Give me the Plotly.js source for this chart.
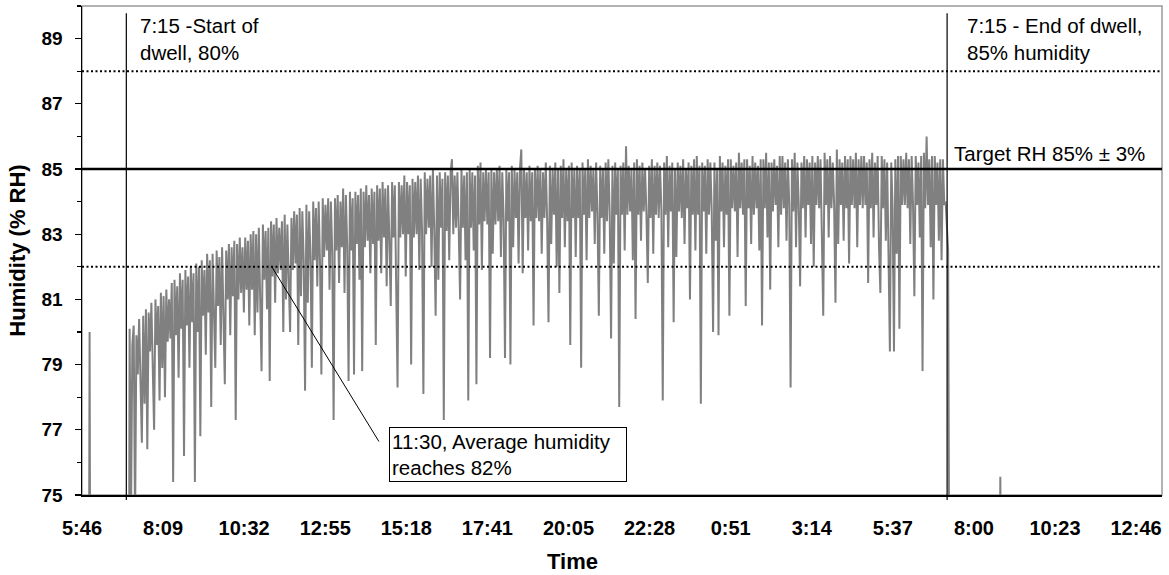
<!DOCTYPE html>
<html>
<head>
<meta charset="utf-8">
<script src="https://cdn.plot.ly/plotly-3.0.1.min.js"></script>
<style>html,body{margin:0;padding:0;background:#fff;}</style>
</head>
<body>
<div id="chart" style="width:1169px;height:575px;"></div>
<script>
// ---- Data (time in hours since midnight of day 1; values in % RH) ----
const tickLabels = ['5:46','8:09','10:32','12:55','15:18','17:41','20:05','22:28','0:51','3:14','5:37','8:00','10:23','12:46'];
const firstTickHour = 5 + 46 / 60;
const tickStepHours = 143.08 / 60;

// readings before the dwell (mostly below the 75 % axis floor)
const preTimes = [5.776, 5.975, 5.990, 6.005, 7.152];
const preRH    = [73.0, 73.0, 80.0, 73.0, 73.0];

// dwell readings, one every 0.04 h starting at dwellFirstHour
const dwellFirstHour = 7.167;
const dwellStepHours = 0.04;
const dwellRH = [
 80.1,74.2,79.6,80.2,74.0,79.9,78.7,80.4,78.2,76.6,80.5,77.8,80.7,76.4,80.6,79.4,80.9,78.5,77.0,81.0,79.6,80.8,77.9,81.2,78.9,81.1,78.0,81.3,79.7,81.0,
 79.8,81.5,75.4,81.6,79.9,81.4,78.6,81.8,80.1,81.6,76.2,81.9,80.2,81.7,78.9,82.0,80.3,81.8,75.4,82.1,80.0,82.0,76.8,82.2,80.5,81.9,79.3,82.4,80.6,82.2,
 77.7,82.4,80.7,78.9,82.5,80.8,82.3,79.6,82.6,80.9,78.4,82.5,81.0,82.7,79.9,82.6,81.1,82.8,77.3,82.7,81.0,82.9,81.2,82.6,80.6,82.9,81.3,82.8,80.2,83.0,
 81.3,83.1,79.9,83.0,80.6,83.2,81.4,78.8,83.3,81.6,83.1,80.7,83.2,78.5,83.4,81.7,83.3,80.9,83.5,81.8,83.2,81.9,83.4,80.0,83.6,81.0,83.3,82.0,80.0,83.5,
 81.9,83.7,82.1,83.6,79.6,83.8,81.1,83.7,82.2,78.2,83.9,80.9,83.7,82.3,78.9,84.0,82.2,83.8,81.4,84.0,82.1,78.7,84.1,82.3,83.9,82.5,84.1,81.3,84.0,82.4,
 77.3,84.1,82.5,84.2,81.5,84.0,82.6,84.4,81.2,84.2,82.6,78.5,84.3,82.5,84.1,78.7,84.3,82.7,84.2,81.6,84.4,78.8,84.3,82.6,84.5,82.8,84.2,81.8,84.4,82.7,
 84.3,79.6,84.5,82.8,84.4,81.8,84.6,82.9,84.4,81.4,84.5,82.8,80.8,84.6,82.9,84.5,81.9,78.3,84.6,82.9,84.5,83.0,84.8,81.7,84.6,83.0,84.5,79.0,84.7,82.9,
 84.6,83.0,84.8,81.9,84.7,83.1,78.1,84.9,83.0,84.7,83.2,84.8,82.0,85.0,83.1,80.5,84.8,81.6,84.9,83.2,84.7,77.3,84.9,83.1,84.8,82.2,84.9,85.3,83.0,84.8,
 83.2,84.9,83.1,81.0,85.0,83.2,84.8,82.2,84.9,77.9,85.0,83.2,84.9,82.5,84.8,78.4,85.1,83.3,85.2,81.9,84.9,83.4,85.0,83.3,84.9,79.2,85.0,82.4,84.9,83.3,
 85.0,83.4,85.1,82.3,84.9,83.5,79.2,85.0,83.4,84.9,79.0,85.1,82.6,85.0,83.5,84.9,82.1,85.0,85.6,81.8,85.0,83.5,84.9,82.5,85.1,83.4,84.9,80.2,85.0,83.5,
 85.1,83.4,85.0,82.4,84.9,83.5,85.2,83.4,80.3,85.1,82.7,85.0,83.6,85.2,82.0,85.0,81.2,85.1,83.5,85.3,82.6,85.0,83.4,85.1,79.6,85.2,83.5,85.0,82.3,85.1,
 83.5,85.0,78.9,85.2,83.6,85.0,82.2,85.3,83.5,85.1,83.7,85.0,82.7,85.2,83.6,80.5,85.1,83.5,85.0,82.4,85.2,83.4,85.3,83.6,79.8,85.1,82.1,85.2,83.6,85.0,
 77.7,85.1,83.6,85.2,82.5,85.7,83.6,85.1,83.7,85.0,82.2,85.2,80.4,85.3,83.6,85.1,82.8,85.2,83.7,85.0,83.6,81.5,85.1,83.5,85.3,82.4,85.1,83.6,85.2,83.5,
 85.1,83.7,77.9,85.2,83.6,85.4,82.6,85.1,83.7,85.2,80.3,85.0,82.3,85.2,83.7,85.1,83.5,85.3,82.7,85.0,83.8,85.2,81.0,85.1,83.6,85.3,82.5,85.4,83.6,85.1,
 77.8,85.2,83.7,85.1,82.4,85.3,83.6,85.2,83.7,80.0,85.2,82.8,85.0,79.9,85.4,83.7,85.2,82.6,85.1,83.6,85.3,80.5,85.3,83.8,85.1,83.7,85.2,82.3,85.5,83.8,
 85.2,83.6,85.3,80.8,85.3,83.8,85.1,82.7,85.4,83.6,85.2,83.8,85.1,82.5,85.3,80.2,85.3,83.8,85.5,82.9,85.2,81.3,85.2,83.7,85.3,83.9,85.1,82.6,85.4,83.6,
 85.4,83.8,85.2,82.8,85.3,83.9,78.3,85.3,83.7,85.5,82.6,85.2,83.9,81.4,85.2,83.8,85.4,82.9,85.3,83.9,85.2,82.7,85.4,82.0,85.2,83.9,85.4,83.8,85.3,82.5,
 80.5,85.5,83.9,85.3,82.9,85.4,83.8,85.2,83.9,80.9,85.6,82.7,85.3,83.9,85.2,82.8,85.4,83.8,85.3,82.1,85.4,83.9,85.3,83.8,85.5,82.6,85.3,83.9,85.4,83.8,
 85.4,83.9,85.2,81.5,85.3,83.8,85.5,82.9,85.2,83.9,85.4,82.6,81.2,85.4,83.8,85.3,82.8,85.2,82.0,79.4,85.2,83.8,79.4,85.3,82.4,85.4,80.1,85.4,83.9,85.3,
 83.9,85.5,83.8,85.3,82.7,85.4,83.9,81.1,85.4,83.9,85.2,82.9,85.4,78.8,85.5,83.8,86.0,83.9,85.3,82.6,85.4,81.0,85.4,83.9,85.2,82.8,85.3,82.2,85.3,83.9,84.0
];

// readings after the dwell (mostly below the axis floor)
const postTimes = [31.24, 31.27, 32.76, 32.775, 32.79, 37.53];
const postRH    = [82.5, 73.0, 73.0, 75.56, 73.0, 73.0];

const targetRH = 85;
const toleranceRH = 3;
const dwellStartLineHour = 7.07;
const dwellEndLineHour = 31.21;
const avgReaches82Hour = 11.35;

// ---- Build arrays for the library ----
const dwellTimes = dwellRH.map((_, i) => dwellFirstHour + i * dwellStepHours);
const xs = preTimes.concat(dwellTimes, postTimes);
const ys = preRH.concat(dwellRH, postRH);
const tickVals = tickLabels.map((_, k) => firstTickHour + k * tickStepHours);
const xAxisMax = 37.53;

const FONT = 'Arial, "Liberation Sans", sans-serif';

const trace = {
  type: 'scatter', mode: 'lines', x: xs, y: ys,
  line: {color: '#808080', width: 2},
  hoverinfo: 'skip'
};

const layout = {
  width: 1169, height: 575,
  margin: {l: 82, r: 7, t: 6, b: 80},
  paper_bgcolor: '#ffffff', plot_bgcolor: '#ffffff',
  showlegend: false,
  font: {family: FONT, color: '#000'},
  xaxis: {
    range: [firstTickHour, xAxisMax],
    tickmode: 'array', tickvals: tickVals, ticktext: tickLabels,
    ticks: '', showgrid: false, zeroline: false,
    showline: true, linecolor: '#000', linewidth: 1.5,
    tickfont: {family: FONT, size: 20, weight: 'bold', color: '#000'},
    ticklabelstandoff: 14
  },
  yaxis: {
    range: [75, 90], tick0: 75, dtick: 2,
    ticks: 'outside', ticklen: 6, tickwidth: 1.2, tickcolor: '#000',
    minor: {dtick: 1, ticks: 'outside', ticklen: 4, tickwidth: 1.2, tickcolor: '#000', showgrid: false},
    showgrid: false, zeroline: false,
    showline: true, linecolor: '#000', linewidth: 1.5,
    tickfont: {family: FONT, size: 19, weight: 'bold', color: '#000'},
    ticklabelstandoff: 8,
    title: {text: 'Humidity (% RH)', font: {family: FONT, size: 22, weight: 'bold', color: '#000'}, standoff: 10}
  },
  shapes: [
    {type: 'rect', xref: 'paper', yref: 'paper', x0: 0, x1: 1, y0: 0, y1: 1, line: {color: '#999', width: 1.5}, layer: 'below'},
    {type: 'line', xref: 'paper', yref: 'y', x0: 0, x1: 1, y0: targetRH + toleranceRH, y1: targetRH + toleranceRH, line: {color: '#000', width: 2, dash: '2px,2.5px'}},
    {type: 'line', xref: 'paper', yref: 'y', x0: 0, x1: 1, y0: targetRH - toleranceRH, y1: targetRH - toleranceRH, line: {color: '#000', width: 2, dash: '2px,2.5px'}},
    {type: 'line', xref: 'paper', yref: 'y', x0: 0, x1: 1, y0: targetRH, y1: targetRH, line: {color: '#000', width: 2.5}},
    {type: 'line', xref: 'x', yref: 'paper', x0: dwellStartLineHour, x1: dwellStartLineHour, y0: -0.01, y1: 0.985, line: {color: '#000', width: 1.2}},
    {type: 'line', xref: 'x', yref: 'paper', x0: dwellEndLineHour, x1: dwellEndLineHour, y0: -0.01, y1: 0.985, line: {color: '#000', width: 1.2}},
    {type: 'line', xref: 'x', yref: 'y', x0: avgReaches82Hour, y0: 82, x1: 14.5, y1: 76.64, line: {color: '#000', width: 1}}
  ],
  annotations: [
    {text: '7:15 -Start of<br>dwell, 80%', xref: 'x', yref: 'paper', x: 7.42, y: 0.988, xanchor: 'left', yanchor: 'top', align: 'left', showarrow: false, font: {family: FONT, size: 20.5, color: '#000'}},
    {text: '7:15 - End of dwell,<br>85% humidity', xref: 'x', yref: 'paper', x: 31.75, y: 0.988, xanchor: 'left', yanchor: 'top', align: 'left', showarrow: false, font: {family: FONT, size: 20.5, color: '#000'}},
    {text: 'Target RH 85% ± 3%', xref: 'x', yref: 'y', x: 31.36, y: targetRH, xanchor: 'left', yanchor: 'bottom', yshift: 2, align: 'left', showarrow: false, font: {family: FONT, size: 20.5, color: '#000'}},
    {text: '11:30, Average humidity<br>reaches 82%', xref: 'x', yref: 'y', x: 14.8, y: 77.09, xanchor: 'left', yanchor: 'top', align: 'left', valign: 'middle', width: 232, height: 49, borderpad: 2, bordercolor: '#000', borderwidth: 1, bgcolor: '#fff', showarrow: false, font: {family: FONT, size: 20.5, color: '#000'}},
    {text: 'Time', xref: 'paper', yref: 'paper', x: 0.4546, y: -0.137, xanchor: 'center', yanchor: 'middle', showarrow: false, font: {family: FONT, size: 22, weight: 'bold', color: '#000'}}
  ]
};

Plotly.newPlot('chart', [trace], layout, {displayModeBar: false, staticPlot: true});
</script>
</body>
</html>
